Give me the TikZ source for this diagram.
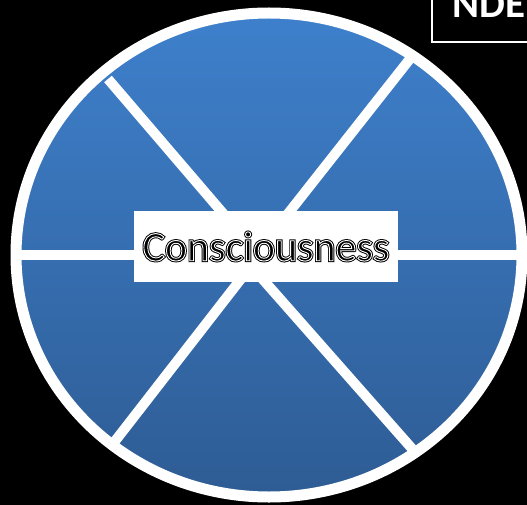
\documentclass[tikz,border=0pt]{standalone}
\usepackage{fontspec}
\setmainfont{Carlito}
\usetikzlibrary{positioning}
\definecolor{wheeltop}{RGB}{62,128,204}
\definecolor{wheelbot}{RGB}{46,92,148}

% black letters with a thin white line round their edge
\newcommand{\edgedword}[1]{%
  \makebox[0pt][l]{\special{pdf:literal direct 2 Tr 2.8 w}#1\special{pdf:literal direct 0 Tr 1 w}}%
  {\color{white}\special{pdf:literal direct 1 Tr 0.9 w}#1\special{pdf:literal direct 0 Tr 1 w}}}

\begin{document}
\begin{tikzpicture}[x=1pt,y=-1pt,
    spoke/.style={white, line width=10pt},
    hubbox/.style={fill=white, minimum width=264pt, minimum height=71pt, inner sep=0pt,
                   font=\fontsize{42}{42}\selectfont},
    tagbox/.style={white, line width=2pt}
  ]
  \useasboundingbox (0,0) rectangle (527,505);
  \fill[black] (0,0) rectangle (527,505);
  \clip (0,0) rectangle (527,505);

  % the wheel
  \shade[top color=wheeltop, bottom color=wheelbot] (269,255) ellipse [x radius=253, y radius=242];

  % spoke ends
  \coordinate (upmid) at (257,253);
  \coordinate (lowmid) at (251,266);
  \coordinate (ul) at (108,79);
  \coordinate (ur) at (413,55);
  \coordinate (ll) at (112,445);
  \coordinate (lr) at (415,452);
  \coordinate (w) at (16,255);
  \coordinate (e) at (522,255);

  \draw[spoke] (w) -- (e);
  \draw[spoke] (ul) -- (upmid);
  \draw[spoke] (ur) -- (upmid);
  \draw[spoke] (ll) -- (lowmid);
  \draw[spoke] (lr) -- (lowmid);

  \draw[white, line width=11pt] (269,255) ellipse [x radius=253, y radius=242];

  \node[hubbox] (hub) at (266,246.5) {\edgedword{Consciousness}};

  % corner tag
  \draw[tagbox] (432,-10) rectangle (580,42);
  \node[anchor=base west, inner sep=0pt, white, font=\bfseries\fontsize{41}{41}\selectfont]
    (tag) at (452,18) {NDE};
\end{tikzpicture}
\end{document}
